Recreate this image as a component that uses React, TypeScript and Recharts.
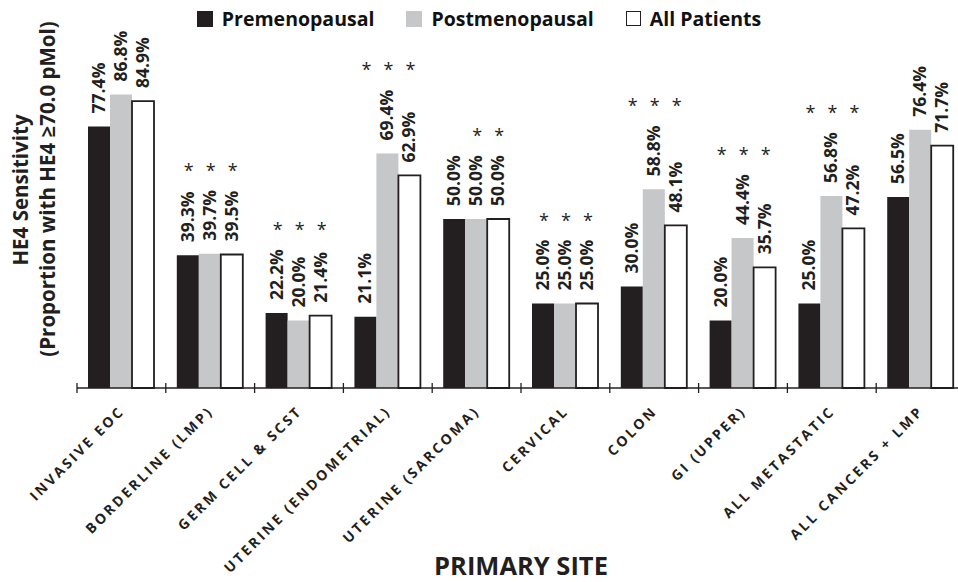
import React from "react";
import { BarChart, Bar, XAxis, YAxis, Legend, LabelList, Label } from "recharts";

const categories = [
  "INVASIVE EOC",
  "BORDERLINE (LMP)",
  "GERM CELL & SCST",
  "UTERINE (ENDOMETRIAL)",
  "UTERINE (SARCOMA)",
  "CERVICAL",
  "COLON",
  "GI (UPPER)",
  "ALL METASTATIC",
  "ALL CANCERS + LMP",
];
const premenopausal = [77.4, 39.3, 22.2, 21.1, 50.0, 25.0, 30.0, 20.0, 25.0, 56.5];
const postmenopausal = [86.8, 39.7, 20.0, 69.4, 50.0, 25.0, 58.8, 44.4, 56.8, 76.4];
const allPatients = [84.9, 39.5, 21.4, 62.9, 50.0, 25.0, 48.1, 35.7, 47.2, 71.7];
const sigPre = [false, true, true, true, false, true, true, true, true, false];
const sigPost = [false, true, true, true, true, true, true, true, true, false];
const sigAll = [false, true, true, true, true, true, true, true, true, false];

const DARK = "#231f20";
const GRAY = "#c6c7c9";
const FONT = "'Open Sans', sans-serif";

const series = [
  { key: "pre", name: "Premenopausal", fill: DARK, stroke: "none", sig: sigPre },
  { key: "post", name: "Postmenopausal", fill: GRAY, stroke: "none", sig: sigPost },
  { key: "all", name: "All Patients", fill: "#ffffff", stroke: DARK, sig: sigAll },
];

const data = categories.map((name, i) => ({
  name,
  pre: premenopausal[i],
  post: postmenopausal[i],
  all: allPatients[i],
}));

const makeLabel = (sig: boolean[]) => (props: any) => {
  const { x, y, width, height, value, index } = props;
  const cx = Number(x) + Number(width) / 2;
  const top = Number(y);
  const base = top + Number(height);
  const k = Number(height) / Number(value);
  const maxV = Math.max(premenopausal[index], postmenopausal[index], allPatients[index]);
  const starY = base - maxV * k - 87;
  return (
    <g>
      <text
        transform={`translate(${cx + 6},${top - 13}) rotate(-90)`}
        textAnchor="start"
        fontFamily={FONT}
        fontWeight={700}
        fontSize={17.5}
        fill={DARK}
      >
        {Number(value).toFixed(1)}%
      </text>
      {sig[index] ? (
        <text
          x={cx + 1}
          y={starY + 10}
          textAnchor="middle"
          fontFamily={FONT}
          fontSize={18}
          fill={DARK}
        >
          *
        </text>
      ) : null}
    </g>
  );
};

const CatTick = (props: any) => {
  const { x, y, payload } = props;
  const off = payload && payload.offset != null ? payload.offset : 44.4;
  return (
    <g>
      <line x1={x - off} x2={x - off} y1={y - 5} y2={y + 5} stroke={DARK} strokeWidth={1.3} />
      <text
        transform={`translate(${x + 4},${y + 24}) rotate(-45)`}
        textAnchor="end"
        fontFamily={FONT}
        fontWeight={700}
        fontSize={14}
        letterSpacing={2.6}
        fill={DARK}
      >
        {payload.value}
      </text>
    </g>
  );
};

const renderLegend = () => (
  <div
    style={{
      display: "flex",
      justifyContent: "center",
      alignItems: "center",
      fontFamily: FONT,
      fontWeight: 700,
      fontSize: 19.5,
      color: "#111",
      gap: 32,
    }}
  >
    {series.map((s) => (
      <div key={s.key} style={{ display: "flex", alignItems: "center" }}>
        <span
          style={{
            display: "inline-block",
            width: s.stroke === "none" ? 16 : 13,
            height: s.stroke === "none" ? 16 : 13,
            background: s.fill,
            border: s.stroke === "none" ? "none" : `1.5px solid ${DARK}`,
            marginRight: 9,
          }}
        />
        <span>{s.name}</span>
      </div>
    ))}
  </div>
);

export default function App() {
  return (
    <div
      style={{
        position: "absolute",
        left: 0,
        top: 0,
        width: 958,
        height: 582,
        overflow: "hidden",
        background: "#fff",
      }}
    >
      <BarChart
        width={975}
        height={582}
        data={data}
        margin={{ top: 50, right: 10, left: 0, bottom: 44 }}
        barCategoryGap="12.4%"
        barGap={0}
      >
        <XAxis
          dataKey="name"
          height={150}
          interval={0}
          axisLine={{ stroke: DARK, strokeWidth: 1.5 }}
          tickLine={false}
          tickSize={0}
          tickMargin={0}
          tick={<CatTick />}
        >
          <Label
            content={() => (
              <text
                x={521}
                y={575}
                textAnchor="middle"
                fontFamily={FONT}
                fontWeight={700}
                fontSize={25.5}
                fill={DARK}
              >
                PRIMARY SITE
              </text>
            )}
          />
        </XAxis>
        <YAxis
          domain={[0, 100]}
          width={77}
          axisLine={false}
          tickLine={false}
          tick={false}
        >
          <Label
            content={() => (
              <g fontFamily={FONT} fontWeight={700} fontSize={20.5} fill={DARK}>
                <text transform="translate(28,190) rotate(-90)" textAnchor="middle">
                  HE4 Sensitivity
                </text>
                <text transform="translate(55,189) rotate(-90)" textAnchor="middle">
                  (Proportion with HE4 ≥70.0 pMol)
                </text>
              </g>
            )}
          />
        </YAxis>
        <Legend
          layout="horizontal"
          verticalAlign="middle"
          align="center"
          content={renderLegend}
          wrapperStyle={{ top: 5, left: 0, width: 958 }}
        />
        {series.map((s) => (
          <Bar
            key={s.key}
            dataKey={s.key}
            name={s.name}
            fill={s.fill}
            stroke={s.stroke}
            strokeWidth={s.stroke === "none" ? 0 : 1.8}
            isAnimationActive={false}
          >
            <LabelList dataKey={s.key} content={makeLabel(s.sig)} />
          </Bar>
        ))}
      </BarChart>
    </div>
  );
}
